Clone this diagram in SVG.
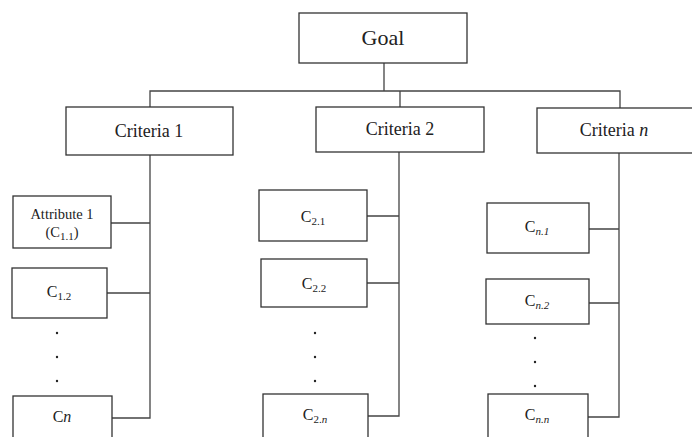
<svg xmlns="http://www.w3.org/2000/svg" width="692" height="437" viewBox="0 0 692 437">
<style>
.box{fill:#fff;stroke:#333;stroke-width:1.3}
.con{fill:none;stroke:#444;stroke-width:1.3}
text{font-family:"Liberation Serif","Times New Roman",serif;fill:#222;text-anchor:middle}
.t22{font-size:22px}
.t18{font-size:18px}
.t16{font-size:16px}
.t14{font-size:14.5px}
.sub{font-size:11px}
.it{font-style:italic}
.dot{fill:#222}
</style>
<rect width="692" height="437" fill="#fff"/>
<g id="connectors">
<path class="con" d="M384 63V91M150 107V91H620V108M400 91V107"/>
<path class="con" d="M150 155V418H112M111 223H150M107 293H150"/>
<path class="con" d="M399 152V416H368M367 216H399M367 283H399"/>
<path class="con" d="M619 153V417H588M589 229H619M589 303H619"/>
</g>
<g id="goal"><rect class="box" x="299" y="13" width="168" height="50"/><text class="t22" x="383" y="45">Goal</text></g>
<g id="criteria1"><rect class="box" x="66" y="107" width="167" height="48"/><text class="t18" x="149" y="137">Criteria 1</text></g>
<g id="criteria2"><rect class="box" x="316" y="107" width="168" height="45"/><text class="t18" x="400" y="135">Criteria 2</text></g>
<g id="criteriaN"><rect class="box" x="537" y="108" width="170" height="45"/><text class="t18" x="614" y="136">Criteria <tspan class="it">n</tspan></text></g>
<g id="c11"><rect class="box" x="13" y="196" width="98" height="52"/><text class="t14" x="62" y="219">Attribute 1</text><text class="t14" x="62" y="237">(C<tspan class="sub" dy="3">1.1</tspan><tspan dy="-3">)</tspan></text></g>
<g id="c12"><rect class="box" x="12" y="268" width="95" height="50"/><text class="t16" x="59" y="297">C<tspan class="sub" dy="3">1.2</tspan></text></g>
<g id="dots1"><circle class="dot" cx="57" cy="333" r="1.2"/><circle class="dot" cx="57" cy="357" r="1.2"/><circle class="dot" cx="57" cy="381" r="1.2"/></g>
<g id="c1n"><rect class="box" x="13" y="396" width="99" height="50"/><text class="t16" x="62" y="422">C<tspan class="it">n</tspan></text></g>
<g id="c21"><rect class="box" x="259" y="190" width="108" height="51"/><text class="t16" x="313" y="222">C<tspan class="sub" dy="3">2.1</tspan></text></g>
<g id="c22"><rect class="box" x="261" y="259" width="106" height="48"/><text class="t16" x="314" y="289">C<tspan class="sub" dy="3">2.2</tspan></text></g>
<g id="dots2"><circle class="dot" cx="315" cy="333" r="1.2"/><circle class="dot" cx="315" cy="357" r="1.2"/><circle class="dot" cx="315" cy="381" r="1.2"/></g>
<g id="c2n"><rect class="box" x="263" y="394" width="105" height="50"/><text class="t16" x="315" y="420">C<tspan class="sub" dy="3">2.<tspan class="it">n</tspan></tspan></text></g>
<g id="cn1"><rect class="box" x="487" y="203" width="102" height="50"/><text class="t16" x="537" y="232">C<tspan class="sub it" dy="3">n.1</tspan></text></g>
<g id="cn2"><rect class="box" x="486" y="279" width="103" height="45"/><text class="t16" x="537" y="306">C<tspan class="sub it" dy="3">n.2</tspan></text></g>
<g id="dots3"><circle class="dot" cx="535" cy="338" r="1.2"/><circle class="dot" cx="535" cy="362" r="1.2"/><circle class="dot" cx="535" cy="386" r="1.2"/></g>
<g id="cnn"><rect class="box" x="488" y="394" width="100" height="50"/><text class="t16" x="537" y="420">C<tspan class="sub it" dy="3">n.n</tspan></text></g>
</svg>
